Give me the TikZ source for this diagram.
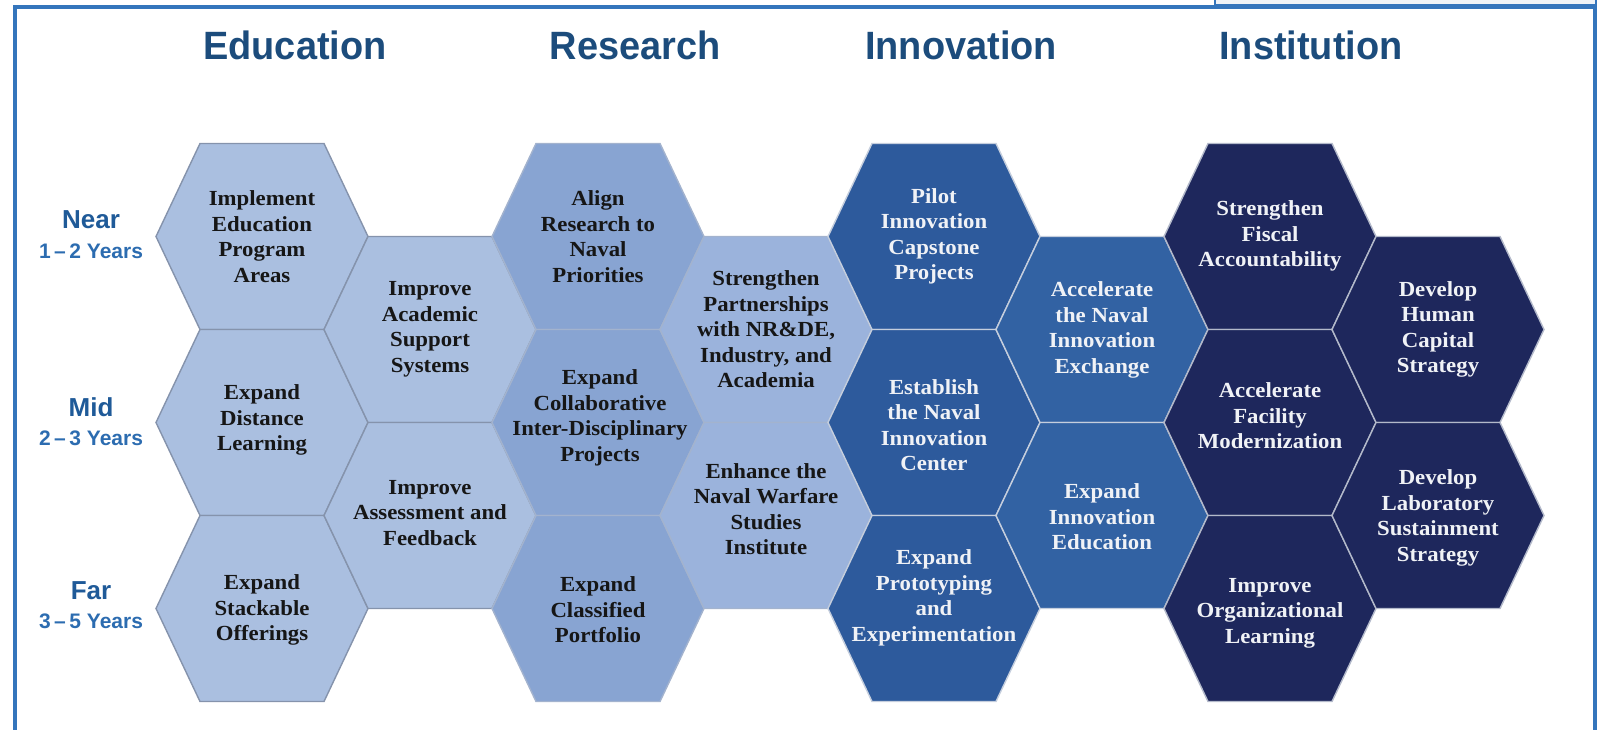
\documentclass[tikz,border=0pt]{standalone}
\usepackage{fontspec}
\usepackage{graphicx}
\newfontfamily\sansf{Liberation Sans}
\newfontfamily\hdrfont{Liberation Sans}[FakeStretch=0.96]
\newfontfamily\hexfont{Liberation Serif}[FakeStretch=1.06]
\definecolor{frameblue}{HTML}{3475BC}
\definecolor{hdrblue}{HTML}{1C4C7C}
\definecolor{rowblue}{HTML}{1F5A98}
\definecolor{yrblue}{HTML}{2C6CB0}
\definecolor{edufill}{HTML}{AABFE0}
\definecolor{eduline}{HTML}{8593AC}
\definecolor{resfillA}{HTML}{88A4D2}
\definecolor{resfillB}{HTML}{9BB3DC}
\definecolor{resline}{HTML}{A3B3CE}
\definecolor{innfillA}{HTML}{2D5A9C}
\definecolor{innfillB}{HTML}{3262A3}
\definecolor{innline}{HTML}{C5CEDD}
\definecolor{insfill}{HTML}{1E275C}
\definecolor{insline}{HTML}{B3B9CA}
\definecolor{darktxt}{HTML}{161616}
\definecolor{lighttxt}{HTML}{F0F2F6}
\definecolor{boxfill}{HTML}{EEF2F7}
\tikzset{
  hexedu/.style={fill=edufill, draw=eduline, line width=1.4pt},
  hexresA/.style={fill=resfillA, draw=resline, line width=1.4pt},
  hexresB/.style={fill=resfillB, draw=resline, line width=1.4pt},
  hexinnA/.style={fill=innfillA, draw=innline, line width=1.4pt},
  hexinnB/.style={fill=innfillB, draw=innline, line width=1.4pt},
  hexins/.style={fill=insfill, draw=insline, line width=1.4pt},
  hextxt/.style={align=center, font=\hexfont\bfseries\fontsize{21.5}{25.5}\selectfont, inner sep=0pt},
  darkt/.style={hextxt, text=darktxt},
  lightt/.style={hextxt, text=lighttxt},
  header/.style={font=\hdrfont\bfseries\fontsize{39.5}{42}\selectfont, text=hdrblue, anchor=base, inner sep=0pt},
  rowname/.style={font=\sansf\bfseries\fontsize{26}{28}\selectfont, text=rowblue, anchor=base, inner sep=0pt},
  rowyears/.style={font=\sansf\bfseries\fontsize{21}{23}\selectfont, text=yrblue, anchor=base, inner sep=0pt},
}
\newcommand{\hexagon}[3]{\draw[#1, shift={(#2,#3)}] (-106,0) -- (-62,-93) -- (62,-93) -- (106,0) -- (62,93) -- (-62,93) -- cycle;}
\begin{document}
\begin{tikzpicture}[x=1pt,y=-1pt]
\useasboundingbox (0,0) rectangle (1608,730);
% frame
\draw[frameblue, line width=4pt] (14.7,740) -- (14.7,7.3) -- (1594.7,7.3) -- (1594.7,740);
\draw[frameblue, line width=2.5pt, fill=boxfill] (1215,-4) rectangle (1596,5);
% headers
\node[header] (hEdu) at (295,60) {Education};
\node[header] (hRes) at (635,60) {Research};
\node[header] (hInn) at (961,60) {Innovation};
\node[header] (hIns) at (1311,60) {Institution};
% row labels
\node[rowname] (rNear) at (91,229) {Near};
\node[rowyears] (yNear) at (91,258) {1\,–\,2 Years};
\node[rowname] (rMid) at (91,416) {Mid};
\node[rowyears] (yMid) at (91,445) {2\,–\,3 Years};
\node[rowname] (rFar) at (91,599) {Far};
\node[rowyears] (yFar) at (91,628) {3\,–\,5 Years};
% Education
\hexagon{hexedu}{262}{236.5}
\hexagon{hexedu}{262}{422.5}
\hexagon{hexedu}{262}{608.5}
\hexagon{hexedu}{430}{329.5}
\hexagon{hexedu}{430}{515.5}
% Research
\hexagon{hexresA}{598}{236.5}
\hexagon{hexresA}{598}{422.5}
\hexagon{hexresA}{598}{608.5}
\hexagon{hexresB}{766}{329.5}
\hexagon{hexresB}{766}{515.5}
% Innovation
\hexagon{hexinnA}{934}{236.5}
\hexagon{hexinnA}{934}{422.5}
\hexagon{hexinnA}{934}{608.5}
\hexagon{hexinnB}{1102}{329.5}
\hexagon{hexinnB}{1102}{515.5}
% Institution
\hexagon{hexins}{1270}{236.5}
\hexagon{hexins}{1270}{422.5}
\hexagon{hexins}{1270}{608.5}
\hexagon{hexins}{1438}{329.5}
\hexagon{hexins}{1438}{515.5}
% texts
\node[darkt] (e1) at (262,236.5) {Implement\\Education\\Program\\Areas};
\node[darkt] (e2) at (262,420) {Expand\\Distance\\Learning};
\node[darkt] (e3) at (262,610) {Expand\\Stackable\\Offerings};
\node[darkt] (e4) at (430,329.5) {Improve\\Academic\\Support\\Systems};
\node[darkt] (e5) at (430,513) {Improve\\Assessment and\\Feedback};
\node[darkt] (r1) at (598,236.5) {Align\\Research to\\Naval\\Priorities};
\node[darkt] (r2) at (600,418) {Expand\\Collaborative\\Inter-Disciplinary\\Projects};
\node[darkt] (r3) at (598,610) {Expand\\Classified\\Portfolio};
\node[darkt] (r4) at (766,329.5) {Strengthen\\Partnerships\\with NR\&DE,\\Industry, and\\Academia};
\node[darkt] (r5) at (766,509) {Enhance the\\Naval Warfare\\Studies\\Institute};
\node[lightt] (n1) at (934,236.5) {Pilot\\Innovation\\Capstone\\Projects};
\node[lightt] (n2) at (934,425) {Establish\\the Naval\\Innovation\\Center};
\node[lightt] (n3) at (934,598) {Expand\\Prototyping\\and\\Experimentation};
\node[lightt] (n4) at (1102,330) {Accelerate\\the Naval\\Innovation\\Exchange};
\node[lightt] (n5) at (1102,517) {Expand\\Innovation\\Education};
\node[lightt] (i1) at (1270,236) {Strengthen\\Fiscal\\Accountability};
\node[lightt] (i2) at (1270,416) {Accelerate\\Facility\\Modernization};
\node[lightt] (i3) at (1270,613) {Improve\\Organizational\\Learning};
\node[lightt] (i4) at (1438,329.5) {Develop\\Human\\Capital\\Strategy};
\node[lightt] (i5) at (1438,518) {Develop\\Laboratory\\Sustainment\\Strategy};
\end{tikzpicture}
\end{document}
